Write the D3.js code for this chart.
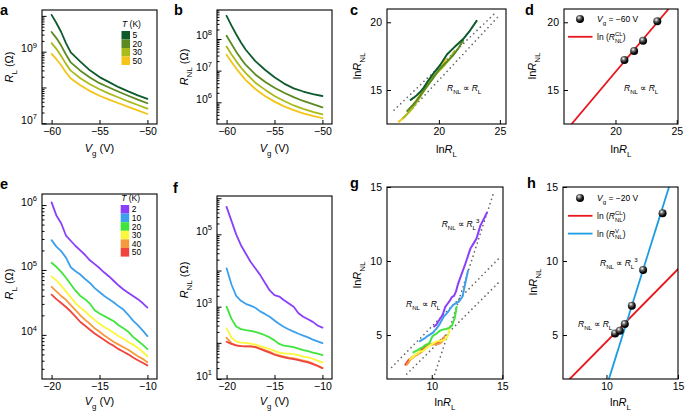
<!DOCTYPE html>
<html><head><meta charset="utf-8">
<script src="https://cdn.jsdelivr.net/npm/d3@7"></script>
<style>
body{margin:0;background:#fff;}
svg text{font-family:"Liberation Sans",Arial,Helvetica,sans-serif;fill:#000;}
</style></head><body>
<svg id="chart" width="685" height="414"></svg>
<script>
// ---------------- DATA ----------------
// top row (panels a-d): gate voltage (V)
const VG_TOP = [-60,-59.5,-59,-58.5,-58,-57,-56,-55,-54,-53,-52,-51,-50];
const T_TOP = ["5","20","30","50"];
// local resistance R_L (Ohm), panel a
const RL_TOP_5  = [1.07e10,6.31e9,3.55e9,1.74e9,9.55e8,5.25e8,3.02e8,1.95e8,1.41e8,1.02e8,7.76e7,6.03e7,4.79e7];
const RL_TOP_20 = [3.55e9,2.40e9,1.48e9,8.32e8,5.01e8,2.95e8,1.91e8,1.32e8,1.00e8,7.59e7,5.89e7,4.57e7,3.63e7];
const RL_TOP_30 = [1.74e9,1.20e9,7.59e8,4.57e8,2.95e8,1.82e8,1.23e8,8.91e7,6.76e7,5.25e7,4.07e7,3.24e7,2.57e7];
const RL_TOP_50 = [8.71e8,6.17e8,4.17e8,2.63e8,1.78e8,1.15e8,7.94e7,5.89e7,4.57e7,3.63e7,2.88e7,2.29e7,1.82e7];
// nonlocal resistance R_NL (Ohm), panel b
const RNL_TOP_5  = [5.37e8,2.69e8,1.41e8,7.76e7,4.57e7,2.00e7,1.07e7,6.17e6,3.89e6,2.75e6,2.19e6,1.82e6,1.58e6];
const RNL_TOP_20 = [1.26e8,7.08e7,3.98e7,2.40e7,1.51e7,7.59e6,4.47e6,2.88e6,2.00e6,1.45e6,1.10e6,8.71e5,6.92e5];
const RNL_TOP_30 = [5.75e7,3.31e7,2.00e7,1.26e7,8.32e6,4.17e6,2.51e6,1.58e6,1.10e6,7.94e5,6.17e5,5.01e5,4.17e5];
const RNL_TOP_50 = [3.16e7,1.91e7,1.17e7,7.59e6,5.01e6,2.63e6,1.58e6,1.05e6,7.41e5,5.62e5,4.47e5,3.72e5,3.16e5];

// bottom row (panels e-h)
const VG_BOT = [-20,-19.5,-19,-18.5,-18,-17.5,-17,-16.5,-16,-15.5,-15,-14.5,-14,-13.5,-13,-12.5,-12,-11.5,-11,-10.5,-10];
const T_BOT = ["2","10","20","30","40","50"];
const RL_BOT_2  = [1.10e6,6.92e5,5.25e5,3.39e5,2.82e5,2.34e5,2.00e5,1.70e5,1.41e5,1.23e5,1.07e5,9.12e4,7.94e4,6.76e4,5.75e4,5.01e4,4.47e4,3.98e4,3.55e4,3.09e4,2.63e4];
const RL_BOT_10 = [2.88e5,2.29e5,1.95e5,1.55e5,1.10e5,9.55e4,8.51e4,7.24e4,6.31e4,5.25e4,4.57e4,3.98e4,3.55e4,3.16e4,2.75e4,2.45e4,2.04e4,1.66e4,1.41e4,1.17e4,9.55e3];
const RL_BOT_20 = [1.29e5,1.12e5,9.33e4,7.59e4,6.03e4,4.79e4,3.98e4,3.55e4,3.02e4,2.40e4,2.14e4,1.95e4,1.78e4,1.62e4,1.41e4,1.26e4,1.12e4,9.33e3,8.13e3,7.08e3,6.03e3];
const RL_BOT_30 = [7.94e4,6.92e4,5.75e4,4.68e4,3.80e4,3.09e4,2.63e4,2.29e4,1.95e4,1.70e4,1.48e4,1.32e4,1.20e4,1.07e4,9.55e3,8.71e3,7.76e3,7.08e3,6.31e3,5.50e3,4.68e3];
const RL_BOT_40 = [5.50e4,4.68e4,3.98e4,3.47e4,2.88e4,2.40e4,2.00e4,1.70e4,1.48e4,1.26e4,1.12e4,9.77e3,8.71e3,7.76e3,7.08e3,6.46e3,5.89e3,5.25e3,4.68e3,4.27e3,3.80e3];
const RL_BOT_50 = [4.17e4,3.55e4,3.09e4,2.69e4,2.29e4,1.91e4,1.58e4,1.38e4,1.20e4,1.05e4,9.33e3,8.32e3,7.41e3,6.76e3,6.03e3,5.50e3,5.01e3,4.47e3,4.07e3,3.72e3,3.39e3];
const RNL_BOT_2  = [5.75e5,2.40e5,1.00e5,5.01e4,2.95e4,1.74e4,1.15e4,7.59e3,4.57e3,2.82e3,2.09e3,1.91e3,1.51e3,1.23e3,1.00e3,6.61e2,5.25e2,4.47e2,3.80e2,3.02e2,2.63e2];
const RNL_BOT_10 = [1.15e4,4.17e3,2.00e3,1.45e3,1.20e3,1.07e3,9.33e2,7.41e2,6.31e2,5.25e2,4.17e2,3.31e2,2.75e2,2.34e2,2.04e2,1.78e2,1.58e2,1.41e2,1.23e2,1.10e2,9.77e1];
const RNL_BOT_20 = [1.00e3,4.68e2,2.82e2,2.40e2,2.24e2,2.14e2,2.00e2,1.82e2,1.62e2,1.41e2,1.17e2,9.33e1,8.32e1,7.94e1,7.59e1,6.92e1,6.31e1,5.89e1,5.37e1,5.01e1,4.57e1];
const RNL_BOT_30 = [2.51e2,1.41e2,1.10e2,1.02e2,1.00e2,9.55e1,8.91e1,8.13e1,7.41e1,6.76e1,6.03e1,5.37e1,5.13e1,5.01e1,4.90e1,4.57e1,4.17e1,3.98e1,3.63e1,3.24e1,2.88e1];
const RNL_BOT_40 = [1.38e2,9.77e1,8.51e1,8.13e1,7.94e1,7.94e1,7.76e1,7.08e1,6.31e1,5.62e1,4.90e1,4.47e1,4.17e1,3.89e1,3.72e1,3.47e1,3.24e1,3.02e1,2.69e1,2.34e1,2.00e1];
const RNL_BOT_50 = [1.07e2,9.33e1,8.51e1,8.13e1,7.94e1,7.94e1,7.59e1,6.76e1,6.03e1,5.37e1,4.68e1,4.27e1,3.98e1,3.72e1,3.55e1,3.31e1,3.09e1,2.88e1,2.57e1,2.29e1,2.00e1];

// panel d: Vg = -60 V points and classical fit line (lnR_L, lnR_NL)
const D_LNRL  = [20.73, 21.52, 22.25, 23.41];
const D_LNRNL = [17.21, 17.88, 18.64, 20.07];
const D_CL_LINE = [[16.42, 12.49], [24.33, 20.98]];
// panel h: Vg = -20 V points, classical and valley fit lines
const H_LNRL  = [10.60, 10.93, 11.28, 11.77, 12.56, 13.92];
const H_LNRNL = [5.11, 5.29, 5.74, 6.98, 9.39, 13.22];
const H_CL_LINE = [[7.40, 2.00], [15.05, 9.50]];
const H_V_LINE  = [[10.16, 2.00], [14.37, 15.00]];
// guide (dotted) lines
const C_GUIDES = [[[16.33, 13.52], [24.65, 20.72]], [[17.07, 12.91], [25.0, 20.55]]];
const G_GUIDES = [[[10.11, 2.05], [14.37, 14.57]], [[7.16, 2.82], [14.72, 10.14]], [[8.23, 2.36], [14.72, 8.53]]];

// tick labels
const A_YLAB = [1e7, 1e9], B_YLAB = [1e6, 1e7, 1e8], E_YLAB = [1e4, 1e5, 1e6], F_YLAB = [1e1, 1e3, 1e5];

// ---------------- STYLE ----------------
const COL_TOP = ["#0d5b2c", "#5b8b20", "#a9bb1b", "#f4c419"];
const COL_BOT = ["#8b3ffb", "#3da0ec", "#40e53b", "#fbf73c", "#f69a3d", "#f0443e"];
const FS = 10.5;

const svg = d3.select("#chart");
const defs = svg.append("defs");
const grad = defs.append("radialGradient").attr("id","ball").attr("cx","38%").attr("cy","32%").attr("r","65%");
grad.append("stop").attr("offset","0%").attr("stop-color","#ffffff");
grad.append("stop").attr("offset","35%").attr("stop-color","#6a6a6a");
grad.append("stop").attr("offset","75%").attr("stop-color","#111");
grad.append("stop").attr("offset","100%").attr("stop-color","#000");

function rich(t, parts, fs) {
  let shift = 0;
  parts.forEach(p => {
    const s = p[0], st = p[1] || "";
    const ts = t.append("tspan").text(s);
    let target = 0, size = fs;
    if (st.includes("sub")) { target = fs * 0.32; size = fs * 0.72; }
    if (st.includes("sup")) { target = -fs * 0.42; size = fs * 0.72; }
    ts.attr("dy", target - shift).attr("font-size", size);
    if (st.includes("i")) ts.attr("font-style", "italic");
    if (p[2]) ts.attr("dx", p[2]);
    shift = target;
  });
  return t;
}

function makePanel(b, xs, ys, id) {
  const P = Object.assign({}, b);
  P.x = xs.range([b.x0, b.x1]);
  P.y = ys.range([b.y1, b.y0]);
  defs.append("clipPath").attr("id", "clip" + id).append("rect")
    .attr("x", b.x0).attr("y", b.y0).attr("width", b.x1 - b.x0).attr("height", b.y1 - b.y0);
  P.g = svg.append("g").attr("clip-path", `url(#clip${id})`);
  return P;
}
function frame(P) {
  svg.append("rect").attr("x", P.x0).attr("y", P.y0).attr("width", P.x1 - P.x0).attr("height", P.y1 - P.y0)
    .attr("fill", "none").attr("stroke", "#000").attr("stroke-width", 1.1);
}
function styleAxis(g) {
  g.select(".domain").remove();
  g.selectAll(".tick line").attr("stroke", "#000").attr("stroke-width", 1);
  g.selectAll("text").attr("font-size", FS).attr("font-family", '"Liberation Sans", Arial, sans-serif');
}
function xAxisLinear(P, ticks) {
  const g = svg.append("g").attr("transform", `translate(0,${P.y1})`)
    .call(d3.axisBottom(P.x).tickValues(ticks).tickSizeInner(-4).tickSizeOuter(0).tickPadding(4).tickFormat(d3.format("d")));
  styleAxis(g);
}
function yAxisLinear(P, ticks) {
  const g = svg.append("g").attr("transform", `translate(${P.x0},0)`)
    .call(d3.axisLeft(P.y).tickValues(ticks).tickSizeInner(-4).tickSizeOuter(0).tickPadding(5).tickFormat(d3.format("d")));
  styleAxis(g);
}
function yAxisLog(P, labels) {
  const [lo, hi] = P.y.domain();
  const majors = [], minors = [];
  for (let k = Math.floor(Math.log10(lo)); k <= Math.ceil(Math.log10(hi)); k++) {
    const v = Math.pow(10, k);
    if (v >= lo && v <= hi) majors.push(v);
    for (let m = 2; m <= 9; m++) { const w = m * v; if (w >= lo && w <= hi) minors.push(w); }
  }
  const gm = svg.append("g").attr("transform", `translate(${P.x0},0)`)
    .call(d3.axisLeft(P.y).tickValues(minors).tickSizeInner(-2.5).tickSizeOuter(0).tickFormat(""));
  styleAxis(gm);
  const g = svg.append("g").attr("transform", `translate(${P.x0},0)`)
    .call(d3.axisLeft(P.y).tickValues(majors).tickSizeInner(-4.5).tickSizeOuter(0).tickPadding(5).tickFormat(""));
  styleAxis(g);
  g.selectAll(".tick").each(function(d) {
    const t = d3.select(this).select("text");
    if (!labels.some(l => Math.abs(Math.log10(l) - Math.log10(d)) < 1e-6)) return;
    t.text("").attr("dy", "0.36em");
    rich(t, [["10", ""], [String(Math.round(Math.log10(d))), "sup"]], FS);
  });
}
function xTitle(P, parts, y) {
  const t = svg.append("text").attr("x", (P.x0 + P.x1) / 2).attr("y", y).attr("text-anchor", "middle").attr("font-size", 11);
  rich(t, parts, 11);
}
function yTitle(x, y, parts) {
  const t = svg.append("text").attr("transform", `translate(${x},${y}) rotate(-90)`).attr("text-anchor", "middle").attr("font-size", 11);
  rich(t, parts, 11);
}
function letter(s, x, y) {
  svg.append("text").attr("x", x).attr("y", y).attr("font-size", 14.5).attr("font-weight", "bold").text(s);
}
function curve(P, xs, ys, color, w) {
  P.g.append("path").datum(xs.map((v, i) => [v, ys[i]]))
    .attr("d", d3.line().x(d => P.x(d[0])).y(d => P.y(d[1])))
    .attr("fill", "none").attr("stroke", color).attr("stroke-width", w || 1.8)
    .attr("stroke-linejoin", "round").attr("stroke-linecap", "round");
}
function guide(P, seg) {
  P.g.append("path").datum(seg)
    .attr("d", d3.line().x(d => P.x(d[0])).y(d => P.y(d[1])))
    .attr("fill", "none").attr("stroke", "#666").attr("stroke-width", 1.7)
    .attr("stroke-dasharray", "0 4.6").attr("stroke-linecap", "round");
}
function fitLine(P, seg, color) {
  P.g.append("path").datum(seg)
    .attr("d", d3.line().x(d => P.x(d[0])).y(d => P.y(d[1])))
    .attr("fill", "none").attr("stroke", color).attr("stroke-width", 1.8);
}
function balls(P, xs, ys) {
  svg.append("g").selectAll("circle").data(xs.map((v, i) => [v, ys[i]])).join("circle")
    .attr("cx", d => P.x(d[0])).attr("cy", d => P.y(d[1])).attr("r", 4).attr("fill", "url(#ball)");
}
function annot(x, y, cube) {
  const t = svg.append("text").attr("x", x).attr("y", y).attr("font-size", 8.5);
  const parts = [["R", "i"], ["NL", "sub"], [" \u221D ", ""], ["R", "i"], ["L", "sub"]];
  if (cube) parts.push(["3", "sup"]);
  rich(t, parts, 8.5);
}
function tempLegend(x, y, temps, colors, step) {
  const t = svg.append("text").attr("x", x + 0.5).attr("y", y).attr("font-size", 8.5);
  rich(t, [["T", "i"], [" (K)", ""]], 8.5);
  temps.forEach((s, i) => {
    svg.append("rect").attr("x", x).attr("y", y + 4 + i * step).attr("width", 8.5).attr("height", step).attr("fill", colors[i]);
    svg.append("text").attr("x", x + 11).attr("y", y + 4 + i * step + step / 2 + 3).attr("font-size", 8.5).text(s);
  });
}
function ptLegend(x, y, vg, lines) {
  svg.append("circle").attr("cx", x + 12).attr("cy", y).attr("r", 4).attr("fill", "url(#ball)");
  const t = svg.append("text").attr("x", x + 29).attr("y", y + 3).attr("font-size", 8.5);
  rich(t, [["V", "i"], ["g", "sub"], [" = \u2212" + vg + " V", ""]], 8.5);
  lines.forEach((L, i) => {
    const yy = y + 17.8 * (i + 1);
    svg.append("line").attr("x1", x).attr("x2", x + 24.5).attr("y1", yy).attr("y2", yy).attr("stroke", L[0]).attr("stroke-width", 1.8);
    const tt = svg.append("text").attr("x", x + 29).attr("y", yy + 3).attr("font-size", 8.5);
    rich(tt, [["ln (", ""], ["R", "i"]], 8.5);
    const sup = tt.append("tspan").text(L[1]).attr("font-size", 6).attr("dy", -3.6);
    const w = sup.node().getComputedTextLength();
    tt.append("tspan").text("NL").attr("font-size", 6).attr("dy", 6.4).attr("dx", -w);
    tt.append("tspan").text(")").attr("font-size", 8.5).attr("dy", -2.8);
  });
}

const lnArr = a => a.map(v => Math.log(v));

// ---------------- PANELS ----------------
const A = makePanel({x0: 42, x1: 157, y0: 10, y1: 124}, d3.scaleLinear().domain([-61, -49]), d3.scaleLog().domain([9.55e6, 1.46e10]), "a");
const B = makePanel({x0: 217, x1: 332, y0: 10, y1: 124}, d3.scaleLinear().domain([-61, -49]), d3.scaleLog().domain([2.06e5, 8.24e8]), "b");
const C = makePanel({x0: 387, x1: 506, y0: 9, y1: 124}, d3.scaleLinear().domain([15.75, 25.5]), d3.scaleLinear().domain([12.49, 20.98]), "c");
const D = makePanel({x0: 564, x1: 678, y0: 9, y1: 124}, d3.scaleLinear().domain([15.8, 25.1]), d3.scaleLinear().domain([12.49, 20.98]), "d");
const E = makePanel({x0: 42, x1: 157, y0: 194, y1: 379}, d3.scaleLinear().domain([-21, -9]), d3.scaleLog().domain([2.09e3, 1.48e6]), "e");
const F = makePanel({x0: 217, x1: 332, y0: 196, y1: 379}, d3.scaleLinear().domain([-21, -9]), d3.scaleLog().domain([10, 1.15e6]), "f");
const G = makePanel({x0: 387, x1: 503, y0: 187, y1: 379}, d3.scaleLinear().domain([6.83, 15.05]), d3.scaleLinear().domain([2.03, 15]), "g");
const H = makePanel({x0: 563, x1: 678, y0: 187, y1: 379}, d3.scaleLinear().domain([6.96, 15]), d3.scaleLinear().domain([2.03, 15]), "h");

const RL_TOP = [RL_TOP_5, RL_TOP_20, RL_TOP_30, RL_TOP_50];
const RNL_TOP = [RNL_TOP_5, RNL_TOP_20, RNL_TOP_30, RNL_TOP_50];
const RL_BOT = [RL_BOT_2, RL_BOT_10, RL_BOT_20, RL_BOT_30, RL_BOT_40, RL_BOT_50];
const RNL_BOT = [RNL_BOT_2, RNL_BOT_10, RNL_BOT_20, RNL_BOT_30, RNL_BOT_40, RNL_BOT_50];

// a
RL_TOP.forEach((s, i) => curve(A, VG_TOP, s, COL_TOP[i]));
// b
RNL_TOP.forEach((s, i) => curve(B, VG_TOP, s, COL_TOP[i]));
// c
C_GUIDES.forEach(s => guide(C, s));
[3, 2, 1, 0].forEach(i => curve(C, lnArr(RL_TOP[i]), lnArr(RNL_TOP[i]), COL_TOP[i], 2));
// d
fitLine(D, D_CL_LINE, "#e8171d");
balls(D, D_LNRL, D_LNRNL);
// e
RL_BOT.forEach((s, i) => curve(E, VG_BOT, s, COL_BOT[i]));
// f
RNL_BOT.forEach((s, i) => curve(F, VG_BOT, s, COL_BOT[i]));
// g
G_GUIDES.forEach(s => guide(G, s));
[5, 4, 3, 2, 1, 0].forEach(i => curve(G, lnArr(RL_BOT[i]), lnArr(RNL_BOT[i]), COL_BOT[i], 2));
// h
fitLine(H, H_CL_LINE, "#e8171d");
fitLine(H, H_V_LINE, "#1c9de0");
balls(H, H_LNRL, H_LNRNL);

// frames & axes
[A, B, C, D, E, F, G, H].forEach(frame);
xAxisLinear(A, [-60, -55, -50]); yAxisLog(A, A_YLAB);
xAxisLinear(B, [-60, -55, -50]); yAxisLog(B, B_YLAB);
xAxisLinear(C, [20, 25]); yAxisLinear(C, [15, 20]);
xAxisLinear(D, [20, 25]); yAxisLinear(D, [15, 20]);
xAxisLinear(E, [-20, -15, -10]); yAxisLog(E, E_YLAB);
xAxisLinear(F, [-20, -15, -10]); yAxisLog(F, F_YLAB);
xAxisLinear(G, [10, 15]); yAxisLinear(G, [5, 10, 15]);
xAxisLinear(H, [10, 15]); yAxisLinear(H, [5, 10, 15]);

// titles
const VG_T = [["V", "i"], ["g", "sub"], [" (V)", ""]];
const LNRL_T = [["ln", ""], ["R", "i"], ["L", "sub"]];
const LNRNL_T = [["ln", ""], ["R", "i"], ["NL", "sub"]];
xTitle(A, VG_T, 152); xTitle(B, VG_T, 152); xTitle(C, LNRL_T, 153); xTitle(D, LNRL_T, 153);
xTitle(E, VG_T, 405); xTitle(F, VG_T, 405); xTitle(G, LNRL_T, 406); xTitle(H, LNRL_T, 406);
yTitle(13, 67, [["R", "i"], ["L", "sub"], [" (\u03A9)", ""]]);
yTitle(188, 67, [["R", "i"], ["NL", "sub"], [" (\u03A9)", ""]]);
yTitle(361, 66, LNRNL_T);
yTitle(536, 66, LNRNL_T);
yTitle(13, 284, [["R", "i"], ["L", "sub"], [" (\u03A9)", ""]]);
yTitle(188, 280, [["R", "i"], ["NL", "sub"], [" (\u03A9)", ""]]);
yTitle(361, 275, LNRNL_T);
yTitle(537, 282, LNRNL_T);

// legends & annotations
tempLegend(121.5, 27, T_TOP, COL_TOP, 8.5);
tempLegend(120.7, 201, T_BOT, COL_BOT, 8.6);
ptLegend(568, 19, 60, [["#e8171d", "CL"]]);
ptLegend(568, 198, 20, [["#e8171d", "CL"], ["#1c9de0", "V"]]);
annot(447, 91, false);
annot(624, 91, false);
annot(441.7, 227, true);
annot(406, 307, false);
annot(600, 266, true);
annot(578, 327, false);

// panel letters
letter("a", 0, 14.5); letter("b", 174, 14.5); letter("c", 350, 14.5); letter("d", 525, 14.5);
letter("e", 0, 189); letter("f", 173, 193); letter("g", 350, 188); letter("h", 527, 188);
</script>
</body></html>
